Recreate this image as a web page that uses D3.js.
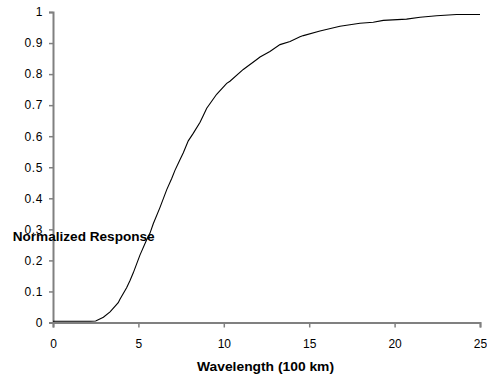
<!DOCTYPE html>
<html>
<head>
<meta charset="utf-8">
<script src="https://cdn.jsdelivr.net/npm/d3@7/dist/d3.min.js"></script>
<style>
  html, body { margin: 0; padding: 0; background: #fff; }
  svg { display: block; }
  text { font-family: "Liberation Sans", Arial, sans-serif; fill: #000; }
</style>
</head>
<body>
<svg id="chart" width="487" height="377"></svg>
<script>
// Normalized response versus wavelength (hundreds of km)
const wavelength = [0, 2.2, 2.5, 2.95, 3.34, 3.82, 3.92, 4.31, 4.51, 4.70, 5.09, 5.49, 5.68, 5.87,
  6.26, 6.66, 6.95, 7.14, 7.44, 7.63, 7.92, 8.21, 8.61, 8.80, 9.0, 9.58, 10.17, 10.36, 11.14,
  11.93, 12.12, 12.7, 13.29, 13.88, 14.46, 14.66, 15.63, 16.8, 17.97, 18.75, 19.34, 20.7,
  21.49, 22.46, 23.63, 25];
const response = [0.004, 0.004, 0.005, 0.017, 0.034, 0.064, 0.075, 0.112, 0.135, 0.16, 0.217,
  0.267, 0.288, 0.318, 0.37, 0.428, 0.464, 0.49, 0.525, 0.547, 0.585, 0.609, 0.645, 0.667,
  0.69, 0.735, 0.77, 0.777, 0.815, 0.847, 0.855, 0.873, 0.895, 0.905, 0.92, 0.924, 0.939,
  0.954, 0.964, 0.967, 0.973, 0.977, 0.983, 0.988, 0.992, 0.992];

const xTicks = [0, 5, 10, 15, 20, 25];
const yTicks = [0, 0.1, 0.2, 0.3, 0.4, 0.5, 0.6, 0.7, 0.8, 0.9, 1];

const svg = d3.select("#chart");
const plot = { left: 53, right: 480, top: 12, bottom: 322.5 };

const x = d3.scaleLinear().domain([0, 25]).range([plot.left, plot.right]);
const y = d3.scaleLinear().domain([0, 1]).range([plot.bottom, plot.top]);

const axisColor = "#808080";

// Y axis
const yAxis = svg.append("g")
  .attr("transform", `translate(${plot.left},0)`)
  .call(d3.axisLeft(y).tickValues(yTicks).tickSize(4).tickPadding(6)
    .tickFormat(d => d3.format("")(+d.toFixed(1))));
yAxis.select(".domain").attr("stroke", axisColor).attr("stroke-width", 2);
yAxis.selectAll(".tick line").attr("stroke", axisColor).attr("stroke-width", 1.5);
yAxis.selectAll(".tick text").style("font-size", "12px").attr("fill", "#000")
  .attr("letter-spacing", "0.6px");

// X axis
const xAxis = svg.append("g")
  .attr("transform", `translate(0,${plot.bottom})`)
  .call(d3.axisBottom(x).tickValues(xTicks).tickSize(5).tickPadding(12));
xAxis.select(".domain").attr("stroke", axisColor).attr("stroke-width", 2);
xAxis.selectAll(".tick line").attr("stroke", axisColor).attr("stroke-width", 1.5);
xAxis.selectAll(".tick text").style("font-size", "12px").attr("fill", "#000");

// Response curve
const line = d3.line()
  .x((d, i) => x(wavelength[i]))
  .y(d => y(d));
svg.append("path")
  .datum(response)
  .attr("fill", "none")
  .attr("stroke", "#000")
  .attr("stroke-width", 1.1)
  .attr("d", line);

// Axis titles
svg.append("text")
  .attr("x", 197)
  .attr("y", 370.7)
  .attr("textLength", 137)
  .attr("lengthAdjust", "spacingAndGlyphs")
  .style("font-size", "12px")
  .style("font-weight", "bold")
  .text("Wavelength (100 km)");

svg.append("text")
  .attr("x", 12.7)
  .attr("y", 240.7)
  .attr("textLength", 142)
  .attr("lengthAdjust", "spacingAndGlyphs")
  .style("font-size", "12.5px")
  .style("font-weight", "bold")
  .text("Normalized Response");
</script>
</body>
</html>
